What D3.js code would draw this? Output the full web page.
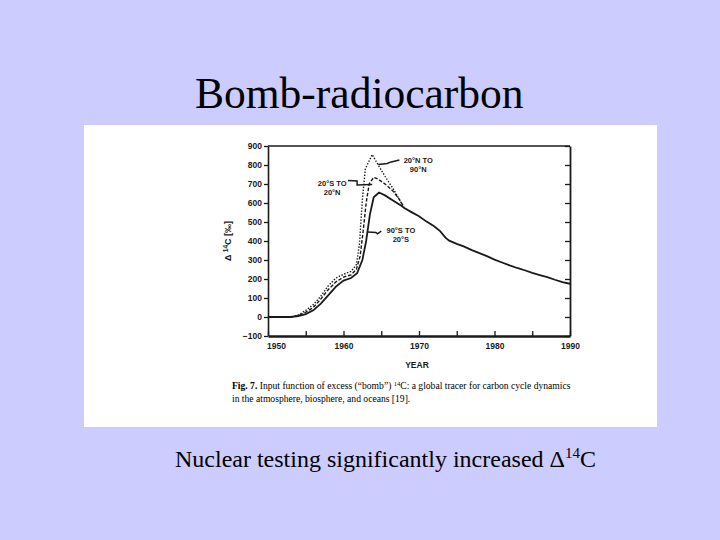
<!DOCTYPE html>
<html><head><meta charset="utf-8">
<script src="https://cdn.jsdelivr.net/npm/d3@7"></script>
<style>html,body{margin:0;padding:0;background:#ccccff;}</style>
</head><body>
<svg id="c" width="720" height="540"></svg>
<script>
// ---- data ----
const southYears  = [1950,1953,1954,1955,1956,1957,1958,1959,1960,1961,1961.8,1962.5,1963,1963.5,1964,1964.7,1965.5,1966.5,1967.5,1968,1969,1970,1971,1972,1972.8,1973.5,1974,1975,1976,1977,1978,1979,1980,1981,1982,1983,1984,1985,1986,1987,1988,1989,1990];
const southValues = [0,0,5,15,35,70,115,160,192,205,230,300,400,540,630,655,640,615,590,575,552,530,502,478,452,418,402,385,370,352,336,320,302,287,272,258,246,232,221,210,196,183,175];

const equatorYears  = [1950,1953,1954,1955,1956,1957,1958,1959,1960,1961,1961.7,1962.2,1962.6,1963,1963.4,1964,1964.6,1965.5,1966.5,1967.3,1968];
const equatorValues = [0,0,8,25,50,95,145,185,210,222,250,320,450,600,700,735,725,700,665,625,578];

const northYears  = [1950,1953,1954,1955,1956,1957,1958,1959,1960,1961,1961.7,1962.1,1962.5,1962.9,1963.8,1964.6,1965.5,1966.5,1967.3,1968];
const northValues = [0,0,10,35,65,110,165,205,225,240,275,380,620,780,855,800,740,680,625,578];

const xLabelTicks = [1950,1960,1970,1980,1990];
const xAllTicks   = [1950,1955,1960,1965,1970,1975,1980,1985,1990];
const yTicks      = [-100,0,100,200,300,400,500,600,700,800,900];

const titleText    = "Bomb-radiocarbon";
const subtitlePre  = "Nuclear testing significantly increased \u0394";
const captionLine1 = "Input function of excess (\u201Cbomb\u201D) ";
const captionLine1b= "C: a global tracer for carbon cycle dynamics";
const captionLine2 = "in the atmosphere, biosphere, and oceans [19].";

const seriesLabels = [
  {lines:["20\u00B0N TO","90\u00B0N"], at:[1969.9,812], leader:[[1964.6,803],[1965.8,808],[1966.2,815],[1967.4,826]]},
  {lines:["20\u00B0S TO","20\u00B0N"], at:[1958.5,690], leader:[[1960.6,718],[1961.8,716],[1961.8,695],[1963.8,697]]},
  {lines:["90\u00B0S TO","20\u00B0S"], at:[1967.6,444], leader:[[1963.2,447],[1964.3,445],[1964.5,438],[1965.0,452]]}
];

// ---- drawing ----
const svg = d3.select("#c");
svg.append("rect").attr("x",0).attr("y",0).attr("width",720).attr("height",540).attr("fill","#ccccff");
svg.append("rect").attr("x",84).attr("y",125).attr("width",573).attr("height",302).attr("fill","#ffffff");

svg.append("text").attr("x",195).attr("y",108)
  .attr("font-family","'Liberation Serif','Times New Roman',serif").attr("font-size",43.5)
  .attr("fill","#000").text(titleText);

const x = d3.scaleLinear().domain([1950,1990]).range([268,570]);
const y = d3.scaleLinear().domain([-100,900]).range([336,146]);
const ink = "#1a1a1a";
const sans = "'Liberation Sans',Arial,sans-serif";

// left axis
const gL = svg.append("g").attr("transform","translate(268,0)")
  .call(d3.axisLeft(y).tickValues(yTicks).tickSize(4).tickSizeOuter(0).tickPadding(2)
    .tickFormat(d => d < 0 ? "\u2212" + Math.abs(d) : d));
// right axis
const gR = svg.append("g").attr("transform","translate(570,0)")
  .call(d3.axisRight(y).tickValues(yTicks).tickSize(-5).tickSizeOuter(0).tickFormat(""));
// bottom axis
const gB = svg.append("g").attr("transform","translate(0,336)")
  .call(d3.axisBottom(x).tickValues(xAllTicks).tickSize(-5).tickSizeOuter(0).tickPadding(7)
    .tickFormat(d => xLabelTicks.includes(d) ? d : ""));
// top border
svg.append("line").attr("x1",x(1950)).attr("x2",x(1990)).attr("y1",y(900)).attr("y2",y(900))
  .attr("stroke",ink).attr("stroke-width",1.6);

[gL,gR,gB].forEach(g=>{
  g.selectAll("path.domain").attr("stroke",ink);
  g.selectAll(".tick line").attr("stroke",ink).attr("stroke-width",1.3);
  g.selectAll("text").attr("font-family",sans).attr("font-weight","bold").attr("font-size",8.5).attr("fill",ink);
});
gL.select("path.domain").attr("stroke-width",1.6);
gR.select("path.domain").attr("stroke-width",1.8);
gB.select("path.domain").attr("stroke-width",2.4);
gB.selectAll(".tick text").attr("dx", d => d === 1950 ? 8 : 0);

// lines
const line = d3.line().x(d=>x(d[0])).y(d=>y(d[1]));
const zip = (a,b)=>a.map((v,i)=>[v,b[i]]);
svg.append("path").datum(zip(northYears,northValues)).attr("d",line)
  .attr("fill","none").attr("stroke",ink).attr("stroke-width",1.4).attr("stroke-dasharray","1.4,1.6");
svg.append("path").datum(zip(equatorYears,equatorValues)).attr("d",line)
  .attr("fill","none").attr("stroke",ink).attr("stroke-width",1.4).attr("stroke-dasharray","3.5,1.8");
svg.append("path").datum(zip(southYears,southValues)).attr("d",line)
  .attr("fill","none").attr("stroke",ink).attr("stroke-width",1.8);

// series labels
seriesLabels.forEach(s=>{
  const t = svg.append("text").attr("font-family",sans).attr("font-weight","bold")
    .attr("font-size",7.5).attr("fill",ink).attr("text-anchor","middle");
  s.lines.forEach((l,i)=>t.append("tspan").attr("x",x(s.at[0])).attr("y",y(s.at[1]) + i*9.5).text(l));
  svg.append("path").datum(s.leader).attr("d",line).attr("fill","none").attr("stroke",ink).attr("stroke-width",1.5);
});

// axis titles
const yt = svg.append("text").attr("transform","translate(231,241) rotate(-90)")
  .attr("text-anchor","middle").attr("font-family",sans).attr("font-weight","bold").attr("font-size",9).attr("fill",ink);
yt.append("tspan").text("\u0394 ");
yt.append("tspan").attr("font-size",6.5).attr("dy",-3.5).text("14");
yt.append("tspan").attr("dy",3.5).text("C [\u2030]");

svg.append("text").attr("x",417).attr("y",368).attr("text-anchor","middle")
  .attr("font-family","'Liberation Sans Narrow','Liberation Sans',Arial,sans-serif").attr("font-weight","bold")
  .attr("font-size",8.5).attr("fill",ink).text("YEAR");

// caption
const serif = "'Liberation Serif','Times New Roman',serif";
const c1 = svg.append("text").attr("x",232).attr("y",389).attr("font-family",serif).attr("font-size",9.6).attr("fill","#000");
c1.append("tspan").attr("font-weight","bold").text("Fig. 7.");
c1.append("tspan").text("  " + captionLine1);
c1.append("tspan").attr("font-size",6.5).attr("dy",-3.5).text("14");
c1.append("tspan").attr("dy",3.5).text(captionLine1b);
svg.append("text").attr("x",232).attr("y",402).attr("font-family",serif).attr("font-size",9.6).attr("fill","#000").text(captionLine2);

// subtitle
const st = svg.append("text").attr("x",175).attr("y",467).attr("font-family",serif).attr("font-size",24).attr("fill","#000");
st.append("tspan").text(subtitlePre);
st.append("tspan").attr("font-size",15).attr("dy",-9).text("14");
st.append("tspan").attr("dy",9).text("C");
</script>
</body></html>
